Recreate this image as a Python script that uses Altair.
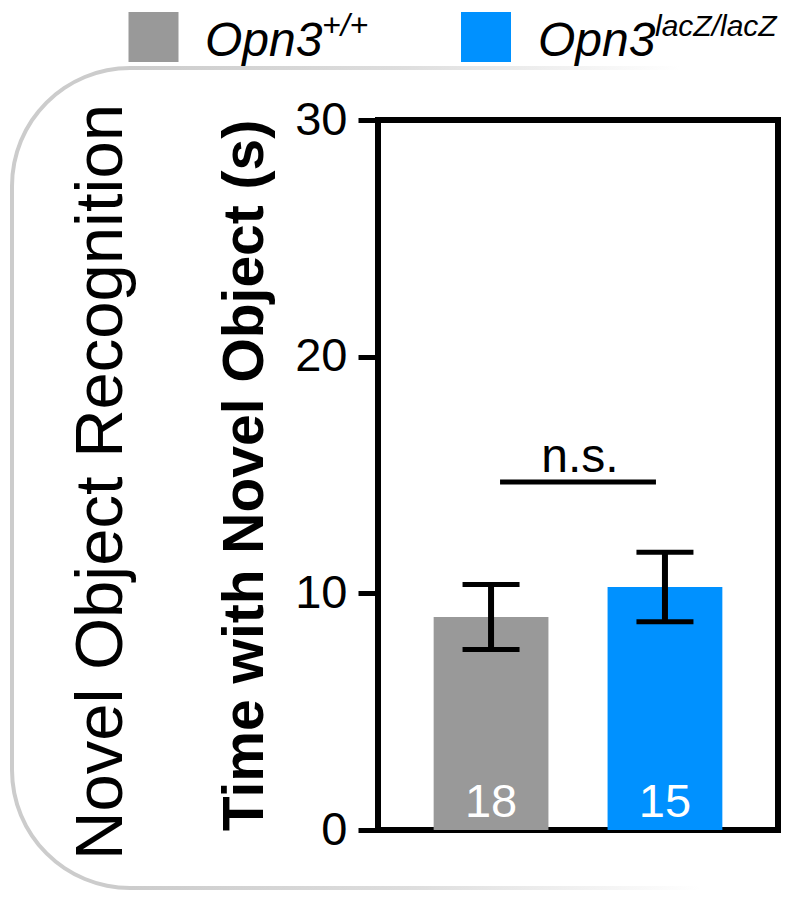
import math
import altair as alt
import pandas as pd

# ---------------- data ----------------
genotypes = ["Opn3+/+", "Opn3lacZ/lacZ"]
legend_base = ["Opn3", "Opn3"]
legend_sup = ["+/+", "lacZ/lacZ"]
bar_colors = ["#999999", "#0091ff"]
means = [9.0, 10.27]
sems = [1.37, 1.47]
n_animals = [18, 15]
y_ticks = [0, 10, 20, 30]
sig_label = "n.s."
sig_y = 14.7
panel_title = "Novel Object Recognition"
y_title = "Time with Novel Object (s)"

df = pd.DataFrame({"genotype": genotypes, "mean": means, "sem": sems, "n": n_animals})
df["lower"] = df["mean"] - df["sem"]
df["upper"] = df["mean"] + df["sem"]
sig_df = pd.DataFrame({"a": [genotypes[0]], "b": [genotypes[1]], "y": [sig_y], "label": [sig_label]})
one = pd.DataFrame({"k": [0]})

# ---------------- layout ----------------
W, H = 400, 710
PL, PT, PR, PB = 370, 112, 6, 60
OX, OY = 8 + PL, 8 + PT  # page position of plot origin


def px(v):
    return v - OX


def py(v):
    return v - OY


FONT = "Liberation Sans"

xscale = alt.Scale(domain=genotypes, paddingInner=0.34, paddingOuter=0.32)
yscale = alt.Scale(domain=[0, 30], nice=False)
X = alt.X("genotype:N", scale=xscale, axis=None)

yaxis = alt.Axis(
    values=y_ticks, domain=False, grid=False, ticks=True, tickSize=20, tickWidth=5,
    tickColor="black", labelFontSize=47, labelFont=FONT, labelColor="black",
    labelPadding=11, labelFlush=False, labelOverlap=False,
    title=y_title, titleFont=FONT, titleFontSize=57, titleFontWeight="bold",
    titleColor="black", titleAngle=270, titleAlign="center", titleBaseline="alphabetic",
    titleX=px(262), titleY=py(475),
)


def Y(field):
    return alt.Y(field, scale=yscale, axis=yaxis)


bars = alt.Chart(df).mark_bar().encode(
    x=X,
    y=Y("mean:Q"),
    color=alt.Color("genotype:N", scale=alt.Scale(domain=genotypes, range=bar_colors), legend=None),
)

err = alt.Chart(df).mark_rule(color="black", strokeWidth=6).encode(
    x=X, y=Y("lower:Q"), y2="upper:Q"
)
cap_hi = alt.Chart(df).mark_tick(color="black", size=57, thickness=5, opacity=1).encode(
    x=X, y=Y("upper:Q")
)
cap_lo = alt.Chart(df).mark_tick(color="black", size=57, thickness=5, opacity=1).encode(
    x=X, y=Y("lower:Q")
)

nlab = alt.Chart(df).mark_text(
    color="white", fontSize=47, font=FONT, baseline="alphabetic", align="center", dy=-13
).encode(x=X, y=alt.value(H), text="n:N")

ns_line = alt.Chart(sig_df).mark_rule(color="black", strokeWidth=5, xOffset=9, x2Offset=-9).encode(
    x=alt.X("a:N", scale=xscale, axis=None), x2="b:N", y=Y("y:Q")
)
ns_text = alt.Chart(sig_df).mark_text(
    fontSize=48, font=FONT, color="black", baseline="alphabetic", align="center", dy=-10
).encode(x=alt.value(px(580)), y=Y("y:Q"), text="label:N")

# ---------------- custom legend ----------------
leg_sq_x = [153.5, 486]
leg_txt_x = [205, 538]
leg_sup_x = [322, 655]
leg_sup_size = [32, 30]
legend_layers = []
for i in range(len(genotypes)):
    d = pd.DataFrame({"base": [legend_base[i]], "sup": [legend_sup[i]]})
    legend_layers.append(
        alt.Chart(d).mark_square(size=2500, opacity=1, color=bar_colors[i]).encode(
            x=alt.value(px(leg_sq_x[i])), y=alt.value(py(37))
        )
    )
    legend_layers.append(
        alt.Chart(d).mark_text(fontSize=48, font=FONT, fontStyle="italic", color="black",
                               align="left", baseline="alphabetic").encode(
            x=alt.value(px(leg_txt_x[i])), y=alt.value(py(56)), text="base:N"
        )
    )
    legend_layers.append(
        alt.Chart(d).mark_text(fontSize=leg_sup_size[i], font=FONT, fontStyle="italic", color="black",
                               align="left", baseline="alphabetic").encode(
            x=alt.value(px(leg_sup_x[i])), y=alt.value(py(36)), text="sup:N"
        )
    )

# ---------------- rounded bracket ----------------
BR = "#cccccc"
R = 118
arc_tl = alt.Chart(one).mark_arc(theta=3 * math.pi / 2, theta2=2 * math.pi, radius=R + 2,
                                 radius2=R - 2, color=BR).encode(
    x=alt.value(px(130)), y=alt.value(py(186)))
arc_bl = alt.Chart(one).mark_arc(theta=math.pi, theta2=3 * math.pi / 2, radius=R + 2,
                                 radius2=R - 2, color=BR).encode(
    x=alt.value(px(130)), y=alt.value(py(770)))
left_line = alt.Chart(one).mark_rect(color=BR).encode(
    x=alt.value(px(10)), x2=alt.value(px(14)), y=alt.value(py(186)), y2=alt.value(py(770)))
grad = alt.LinearGradient(
    gradient="linear", x1=0, x2=1, y1=0, y2=0,
    stops=[alt.GradientStop(color=BR, offset=0), alt.GradientStop(color="#dedede", offset=0.5),
           alt.GradientStop(color="#ffffff", offset=1)],
)
top_line = alt.Chart(one).mark_rect(fill=grad).encode(
    x=alt.value(px(130)), x2=alt.value(px(680)), y=alt.value(py(66)), y2=alt.value(py(70)))
bot_line = alt.Chart(one).mark_rect(fill=grad).encode(
    x=alt.value(px(130)), x2=alt.value(px(700)), y=alt.value(py(886)), y2=alt.value(py(890)))

big_title = alt.Chart(pd.DataFrame({"t": [panel_title]})).mark_text(
    angle=270, fontSize=67, font=FONT, color="black",
    align="center", baseline="alphabetic").encode(
    x=alt.value(px(122)), y=alt.value(py(482)), text="t:N")

chart = alt.layer(
    arc_tl, arc_bl, left_line, top_line, bot_line,
    bars, err, cap_hi, cap_lo, nlab, ns_line, ns_text,
    big_title, *legend_layers
).properties(
    width=W, height=H,
    padding={"left": PL, "top": PT, "right": PR, "bottom": PB},
    autosize=alt.AutoSizeParams(type="none"),
).configure(background="white").configure_view(stroke="black", strokeWidth=6)

chart.save("out.html", embed_options={"renderer": "svg", "actions": False})
